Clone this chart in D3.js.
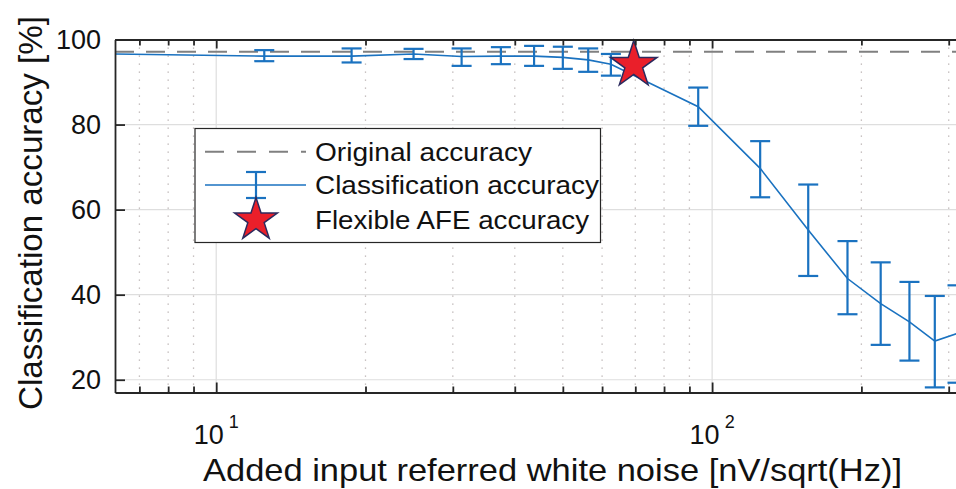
<!DOCTYPE html>
<html><head><meta charset="utf-8">
<script src="https://cdn.jsdelivr.net/npm/d3@7"></script>
<style>
body{margin:0;background:#fff;}
svg{display:block;}
text{font-family:"Liberation Sans",Arial,Helvetica,sans-serif;fill:#111;}
</style>
</head><body>
<svg id="chart" width="956" height="489"></svg>
<script>
// ---- data ----
const noise    = [6.25, 12.5, 18.75, 25, 31.25, 37.5, 43.75, 50, 56.25, 62.5, 93.75, 125, 156.25, 187.5, 218.75, 250, 281.25, 312.5];
const accMean  = [96.6, 96.1, 96.1, 96.6, 96.0, 96.1, 96.1, 95.8, 95.2, 94.2, 84.2, 69.7, 55.2, 43.8, 37.9, 33.6, 29.1, 30.9];
const accUpper = [null, 97.5, 97.9, 97.8, 97.9, 98.2, 98.5, 98.3, 97.9, 96.6, 88.7, 76.1, 65.9, 52.6, 47.6, 43.0, 39.7, 42.2];
const accLower = [null, 94.9, 94.6, 95.4, 93.8, 94.2, 93.8, 93.1, 92.4, 91.5, 79.7, 62.9, 44.4, 35.4, 28.2, 24.5, 18.2, 19.3];
const originalAccuracy = [97.1];
const afeNoise = [69.5];
const afeAccuracy = [94.0];
const xDomain = [6.25, 312.5];
const yDomain = [17, 100];
const xMajorTicks = [10, 100];
const xMajorExp = ["1", "2"];
const xMinorTicks = [7, 8, 9, 20, 30, 40, 50, 60, 70, 80, 90, 200, 300];
const yTicks = [20, 40, 60, 80, 100];
const legendLabels = ["Original accuracy", "Classification accuracy", "Flexible AFE accuracy"];
const xLabel = "Added input referred white noise [nV/sqrt(Hz)]";
const yLabel = "Classification accuracy [%]";

// ---- styles ----
const BLUE = "#1a72c0", GREY = "#808080", AXIS = "#262626", GRID = "#dedede";
const STAR_FILL = "#ea1f2a", STAR_STROKE = "#2b2a5e";

const svg = d3.select("#chart");
svg.append("rect").attr("width", 956).attr("height", 489).attr("fill", "#fff");

const x = d3.scaleLog().domain(xDomain).range([115, 957.5]);
const y = d3.scaleLinear().domain(yDomain).range([392.5, 39.5]);
const [x0, x1] = x.range();
const [yb, yt] = y.range();

// grid
const grid = svg.append("g");
grid.selectAll(".yg").data(yTicks).join("line")
  .attr("x1", x0).attr("x2", x1).attr("y1", d => y(d)).attr("y2", d => y(d))
  .attr("stroke", GRID).attr("stroke-width", 1.2);
grid.selectAll(".xg").data(xMajorTicks).join("line")
  .attr("x1", d => x(d)).attr("x2", d => x(d)).attr("y1", yt).attr("y2", yb)
  .attr("stroke", GRID).attr("stroke-width", 1.2);
grid.selectAll(".xm").data(xMinorTicks).join("line")
  .attr("x1", d => x(d)).attr("x2", d => x(d)).attr("y1", yt).attr("y2", yb)
  .attr("stroke", "#b8b0b0").attr("stroke-width", 1.3).attr("stroke-dasharray", "1.3 6.7");

// original accuracy dashed line
svg.selectAll(".orig").data(originalAccuracy).join("line")
  .attr("x1", x0).attr("x2", x1).attr("y1", d => y(d)).attr("y2", d => y(d))
  .attr("stroke", GREY).attr("stroke-width", 2).attr("stroke-dasharray", "19 12");

// classification line
const pts = noise.map((n, i) => ({n, m: accMean[i], u: accUpper[i], l: accLower[i]}));
svg.append("path").datum(pts)
  .attr("d", d3.line().x(d => x(d.n)).y(d => y(d.m)))
  .attr("fill", "none").attr("stroke", BLUE).attr("stroke-width", 1.6);

// error bars
const eb = svg.append("g").attr("stroke", BLUE).attr("stroke-width", 2.2).attr("fill", "none");
const ebPts = pts.filter(d => d.u !== null);
const CAP = 10;
eb.selectAll(".v").data(ebPts).join("line")
  .attr("x1", d => x(d.n)).attr("x2", d => x(d.n)).attr("y1", d => y(d.u)).attr("y2", d => y(d.l));
eb.selectAll(".t").data(ebPts).join("line")
  .attr("x1", d => x(d.n) - CAP).attr("x2", d => x(d.n) + CAP).attr("y1", d => y(d.u)).attr("y2", d => y(d.u));
eb.selectAll(".b").data(ebPts).join("line")
  .attr("x1", d => x(d.n) - CAP).attr("x2", d => x(d.n) + CAP).attr("y1", d => y(d.l)).attr("y2", d => y(d.l));

// star marker
const KA = 0.89081309152928522810;
const starR = 24.5;
const star = d3.symbol().type(d3.symbolStar).size(starR * starR / KA);
svg.selectAll(".star").data(afeNoise).join("path")
  .attr("d", star)
  .attr("transform", (d, i) => `translate(${x(d)},${y(afeAccuracy[i])})`)
  .attr("fill", STAR_FILL).attr("stroke", STAR_STROKE).attr("stroke-width", 1.5);

// axes
function styleAxis(g) {
  g.select(".domain").attr("stroke", AXIS).attr("stroke-width", 1.8);
  g.selectAll(".tick line").attr("stroke", AXIS).attr("stroke-width", 1.8);
}
svg.append("g").attr("transform", `translate(0,${yb})`)
  .call(d3.axisBottom(x).tickValues(xMajorTicks).tickSize(-10).tickSizeOuter(0).tickFormat(""))
  .call(styleAxis);
svg.append("g").attr("transform", `translate(0,${yb})`)
  .call(d3.axisBottom(x).tickValues(xMinorTicks).tickSize(-6).tickSizeOuter(0).tickFormat(""))
  .call(styleAxis).call(g => g.select(".domain").remove());
svg.append("g").attr("transform", `translate(0,${yt})`)
  .call(d3.axisTop(x).tickValues(xMajorTicks).tickSize(-9).tickSizeOuter(0).tickFormat(""))
  .call(styleAxis);
svg.append("g").attr("transform", `translate(0,${yt})`)
  .call(d3.axisTop(x).tickValues(xMinorTicks).tickSize(-6).tickSizeOuter(0).tickFormat(""))
  .call(styleAxis).call(g => g.select(".domain").remove());
const yAx = svg.append("g").attr("transform", `translate(${x0},0)`)
  .call(d3.axisLeft(y).tickValues(yTicks).tickSize(-10).tickSizeOuter(0).tickPadding(14))
  .call(styleAxis);
yAx.selectAll(".tick text").attr("font-size", 27).attr("fill", "#111")
  .attr("font-family", '"Liberation Sans",Arial,sans-serif');

// x tick labels with superscripts
const xl = svg.selectAll(".xtl").data(xMajorTicks).join("text")
  .attr("x", d => x(d)).attr("y", 444).attr("text-anchor", "middle").attr("font-size", 27);
xl.append("tspan").text("10");
xl.append("tspan").attr("dx", 5).attr("dy", -16).attr("font-size", 18).text((d, i) => xMajorExp[i]);

// axis titles
svg.append("text").attr("x", 203).attr("y", 481).attr("font-size", 32)
  .attr("textLength", 699).attr("lengthAdjust", "spacingAndGlyphs").text(xLabel);
svg.append("text").attr("transform", "translate(42,213) rotate(-90)")
  .attr("text-anchor", "middle").attr("font-size", 33)
  .attr("textLength", 394).attr("lengthAdjust", "spacingAndGlyphs").text(yLabel);

// legend
const lg = svg.append("g").attr("transform", "translate(195,128.5)");
lg.append("rect").attr("width", 405.5).attr("height", 114)
  .attr("fill", "#fff").attr("stroke", AXIS).attr("stroke-width", 1.2);
const rowY = [23.2, 56.5, 91.5];
const textLen = [217, 284, 274];
lg.selectAll(".lt").data(legendLabels).join("text")
  .attr("x", 120).attr("y", (d, i) => rowY[i] + 9).attr("font-size", 25)
  .attr("textLength", (d, i) => textLen[i]).attr("lengthAdjust", "spacingAndGlyphs")
  .text(d => d);
lg.append("line").attr("x1", 10).attr("x2", 111).attr("y1", rowY[0]).attr("y2", rowY[0])
  .attr("stroke", GREY).attr("stroke-width", 2).attr("stroke-dasharray", "19 13");
lg.append("line").attr("x1", 10).attr("x2", 111).attr("y1", rowY[1]).attr("y2", rowY[1])
  .attr("stroke", BLUE).attr("stroke-width", 1.6);
const lgEb = lg.append("g").attr("stroke", BLUE).attr("stroke-width", 2.2);
lgEb.append("line").attr("x1", 61).attr("x2", 61).attr("y1", rowY[1] - 13).attr("y2", rowY[1] + 13);
lgEb.append("line").attr("x1", 61 - CAP).attr("x2", 61 + CAP).attr("y1", rowY[1] - 13).attr("y2", rowY[1] - 13);
lgEb.append("line").attr("x1", 61 - CAP).attr("x2", 61 + CAP).attr("y1", rowY[1] + 13).attr("y2", rowY[1] + 13);
lg.append("path").attr("d", d3.symbol().type(d3.symbolStar).size(22.5 * 22.5 / KA))
  .attr("transform", `translate(61,${rowY[2]})`)
  .attr("fill", STAR_FILL).attr("stroke", STAR_STROKE).attr("stroke-width", 1.5);
</script>
</body></html>
